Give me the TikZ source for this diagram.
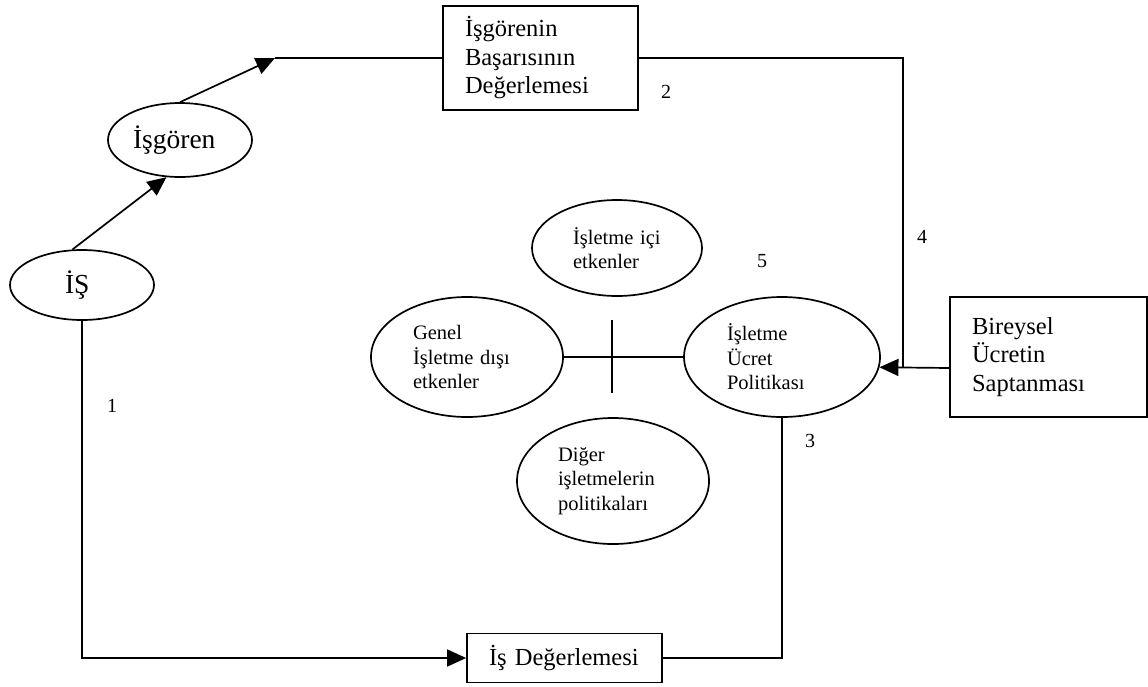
\documentclass[tikz,border=0pt]{standalone}
\usepackage{fontspec}
\setmainfont{Liberation Serif}
\usetikzlibrary{shapes.geometric,arrows.meta,calc}
\begin{document}
\begin{tikzpicture}[x=1pt,y=-1pt,
  line width=1.7pt,
  bigtext/.style={font=\fontsize{24.5}{28.5}\selectfont},
  largetext/.style={font=\fontsize{27.5}{32}\selectfont},
  smalltext/.style={font=\fontsize{20.5}{24.5}\selectfont},
  oval/.style={draw, ellipse, inner sep=0pt, align=left},
  rectbox/.style={draw, rectangle, inner xsep=22pt, inner ysep=0pt, align=left, bigtext},
  flow/.style={-{Triangle[length=19pt,width=17pt]}},
  num/.style={font=\fontsize{20}{24}\selectfont, inner sep=0pt}]
  \useasboundingbox (0,0) rectangle (1148,686);

  % left chain: job -> employee -> appraisal
  \node[oval, largetext, minimum width=144pt, minimum height=70pt, text width=34pt] (IS) at (82,285) {İŞ};
  \node[oval, largetext, minimum width=144pt, minimum height=74pt, text width=94pt] (Isg) at (180,140) {İşgören};
  \node[rectbox, minimum width=195pt, minimum height=104pt, text width=151pt] (Bas) at (540.5,58) {İşgörenin\\Başarısının\\Değerlemesi};

  % central factors
  \node[oval, smalltext, minimum width=170pt, minimum height=96pt, text width=88pt] (Ici) at (617,248) {İşletme içi\\etkenler};
  \node[oval, smalltext, minimum width=192pt, minimum height=120pt, text width=108pt] (Gen) at (467,357) {Genel\\İşletme dışı\\etkenler};
  \node[oval, smalltext, minimum width=196pt, minimum height=120pt, text width=110pt] (Pol) at (782,357) {İşletme\\Ücret\\Politikası};
  \node[oval, smalltext, minimum width=192pt, minimum height=126pt, text width=110pt] (Dig) at (613,481) {Diğer\\işletmelerin\\politikaları};

  % right and bottom boxes
  \node[rectbox, minimum width=197pt, minimum height=120pt, text width=153pt] (Bir) at (1048.5,357) {Bireysel\\Ücretin\\Saptanması};
  \node[rectbox, minimum width=195pt, minimum height=49pt, text width=151pt, inner xsep=21pt] (Deg) at (564.5,658) {İş Değerlemesi};

  % helper points
  \coordinate (c1) at (275,58);
  \coordinate (c2) at (903,368);
  \coordinate (t1) at (612,320);
  \coordinate (t2) at (612,393);

  % connectors
  \draw[flow] (IS.105.5) -- (Isg.250.6);
  \draw[flow] (Isg.north) -- (c1);
  \draw (c1) -- (Bas.west);
  \draw (Bas.east) -| (c2);
  \draw[flow] (Bir.west |- c2) -- (Pol.-6.5);
  \draw[flow] (IS.south) |- (Deg.west);
  \draw (Pol.south) |- (Deg.east);
  \draw (Gen.east) -- (Pol.west);
  \draw (t1) -- (t2);

  % step numbers
  \node[num] (n1) at (112,406) {1};
  \node[num] (n2) at (666,92) {2};
  \node[num] (n3) at (810,441) {3};
  \node[num] (n4) at (922,237) {4};
  \node[num] (n5) at (762,261) {5};
\end{tikzpicture}
\end{document}
